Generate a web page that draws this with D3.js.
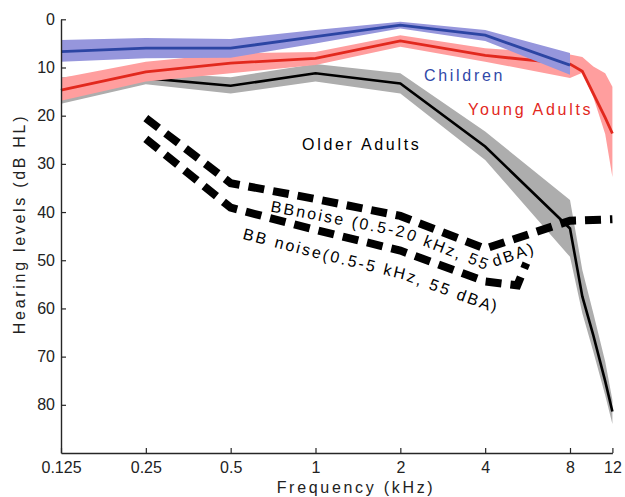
<!DOCTYPE html>
<html>
<head>
<meta charset="utf-8">
<script src="https://cdn.jsdelivr.net/npm/d3@7"></script>
<style>
  html, body { margin: 0; padding: 0; background: #fff; }
  svg { display: block; font-family: "Liberation Sans", Arial, Helvetica, sans-serif; }
</style>
</head>
<body>
<svg id="chart" width="625" height="497"></svg>
<script>
// Audiometric frequencies (kHz): standard octaves and extended high frequencies
const octaveFreqs = [0.125, 0.25, 0.5, 1, 2, 4, 8];
const extendedFreqs = [9, 10, 11.2, 12];
const allFreqs = octaveFreqs.concat(extendedFreqs);

// Children: mean threshold and shaded range (dB HL)
const childMean = [6.7, 6.0, 6.0, 3.6, 1.2, 3.3, 9.5];
const childLow  = [4.3, 3.9, 4.1, 2.2, 0.5, 2.2, 7.0];
const childHigh = [8.8, 8.1, 8.0, 5.0, 1.9, 4.5, 11.5];

// Young adults
const youngMean = [14.7, 10.9, 9.1, 8.1, 4.5, 7.5, 9.3, 10.8, 15.4, 20.4, 23.7];
const youngLow  = [12.2, 8.8, 7.1, 6.8, 3.3, 6.0, 7.3, 7.8, 9.8, 11.2, 14.0];
const youngHigh = [16.9, 12.9, 11.2, 9.5, 5.7, 8.8, 12.2, 11.1, 16.2, 23.8, 32.7];

// Older adults
const olderMean = [14.8, 12.2, 13.8, 11.2, 13.3, 26.4, 43.4, 57.5, 65.6, 75.1, 81.4];
const olderLow  = [12.0, 11.0, 12.0, 9.3, 11.2, 23.3, 37.5, 52.0, 61.0, 71.0, 79.0];
const olderHigh = [17.5, 13.5, 15.4, 12.9, 15.4, 29.2, 49.3, 61.0, 69.0, 78.0, 84.0];

// Broadband noise levels expressed as equivalent hearing levels
const noiseWideFreqs = [0.25, 0.5, 1, 2, 4, 8, 12];
const noiseWide      = [20.5, 34.0, 37.3, 40.8, 47.6, 41.8, 41.5];
const noiseNarrowFreqs = [0.25, 0.5, 1, 2, 4, 5.2, 5.6];
const noiseNarrow      = [24.8, 39.1, 43.7, 48.0, 54.4, 55.2, 50.6];

// Axis ticks
const xTicks = [0.125, 0.25, 0.5, 1, 2, 4, 8, 12];
const xTickLabels = ["0.125", "0.25", "0.5", "1", "2", "4", "8", "12"];
const yTicks = [0, 10, 20, 30, 40, 50, 60, 70, 80];

const colors = {
  childLine: "#2c45a3", childBand: "#9696dc",
  youngLine: "#e2281d", youngBand: "#ff9e9e",
  olderLine: "#000000", olderBand: "#adadad"
};

const svg = d3.select("#chart");

// Octave spacing on a log2 axis; the extended range 8-12 kHz is squeezed into half an octave
const x = d3.scaleLog().base(2)
  .domain([0.125, 8, 12])
  .range([61, 570, 612.4]);
const y = d3.scaleLinear().domain([0, 90]).range([19.3, 453]);

const rows = (fs, m, lo, hi) => fs.map((f, i) => ({ f, m: m[i], lo: lo ? lo[i] : null, hi: hi ? hi[i] : null }));
const child = rows(octaveFreqs, childMean, childLow, childHigh);
const young = rows(allFreqs, youngMean, youngLow, youngHigh);
const older = rows(allFreqs, olderMean, olderLow, olderHigh);
const wide = rows(noiseWideFreqs, noiseWide);
const narrow = rows(noiseNarrowFreqs, noiseNarrow);

const band = d3.area().x(d => x(d.f)).y0(d => y(d.lo)).y1(d => y(d.hi));
const line = d3.line().x(d => x(d.f)).y(d => y(d.m));

const plot = svg.append("g");

// Older adults
plot.append("path").attr("d", band(older)).attr("fill", colors.olderBand);
plot.append("path").attr("d", line(older)).attr("fill", "none")
  .attr("stroke", colors.olderLine).attr("stroke-width", 2.6);

// Young adults
plot.append("path").attr("d", band(young)).attr("fill", colors.youngBand);
plot.append("path").attr("d", line(young)).attr("fill", "none")
  .attr("stroke", colors.youngLine).attr("stroke-width", 2.8);

// Children
plot.append("path").attr("d", band(child)).attr("fill", colors.childBand);
plot.append("path").attr("d", line(child)).attr("fill", "none")
  .attr("stroke", colors.childLine).attr("stroke-width", 2.8);

// Noise curves (thick dashed)
[wide, narrow].forEach(data => {
  plot.append("path").attr("d", line(data)).attr("fill", "none")
    .attr("stroke", "#000").attr("stroke-width", 8)
    .attr("stroke-dasharray", "16,9").attr("stroke-linejoin", "miter");
});

// Label paths that run parallel to each noise curve
const offsetLine = off => d3.line().x(d => x(d.f)).y(d => y(d.m) + off);
const defs = svg.append("defs");
defs.append("path").attr("id", "wideLabelPath").attr("d", offsetLine(21)(wide));
defs.append("path").attr("id", "narrowLabelPath").attr("d", offsetLine(28)(narrow));

const labelStyle = (sel, spacing = 2.7) => sel.attr("font-size", 16).attr("letter-spacing", spacing);

labelStyle(svg.append("text"), 2.3).attr("fill", "#000")
  .append("textPath").attr("href", "#wideLabelPath").attr("startOffset", 147)
  .text("BBnoise (0.5-20 kHz, 55 dBA)");
labelStyle(svg.append("text"), 2.3).attr("fill", "#000")
  .append("textPath").attr("href", "#narrowLabelPath").attr("startOffset", 121)
  .text("BB noise(0.5-5 kHz, 55 dBA)");

// Group labels
labelStyle(svg.append("text")).attr("x", 424).attr("y", 81).attr("fill", "#3048a8").text("Children");
labelStyle(svg.append("text")).attr("x", 468).attr("y", 115).attr("fill", "#e2281d").text("Young Adults");
labelStyle(svg.append("text")).attr("x", 302).attr("y", 150).attr("fill", "#000").text("Older Adults");

// Axes (ticks pointing inward, no box)
const axisColor = "#262626";
const yAxis = svg.append("g").attr("transform", "translate(61,0)")
  .call(d3.axisLeft(y).tickValues(yTicks).tickSizeInner(-5).tickSizeOuter(0).tickPadding(6));
const xAxis = svg.append("g").attr("transform", "translate(0,453)")
  .call(d3.axisBottom(x).tickValues(xTicks).tickFormat((d, i) => xTickLabels[i])
    .tickSizeInner(-5).tickSizeOuter(0).tickPadding(9));
[xAxis, yAxis].forEach(g => {
  g.select(".domain").attr("stroke", axisColor).attr("stroke-width", 1.4);
  g.selectAll(".tick line").attr("stroke", axisColor).attr("stroke-width", 1.2);
  g.selectAll(".tick text").attr("font-size", 16).attr("fill", "#222")
    .attr("font-family", "\"Liberation Sans\", Arial, sans-serif");
});

// Axis titles
labelStyle(svg.append("text")).attr("x", 356).attr("y", 493)
  .attr("text-anchor", "middle").attr("fill", "#222").text("Frequency (kHz)");
labelStyle(svg.append("text"))
  .attr("transform", "translate(25,224) rotate(-90)")
  .attr("text-anchor", "middle").attr("fill", "#222").text("Hearing levels (dB HL)");
</script>
</body>
</html>
